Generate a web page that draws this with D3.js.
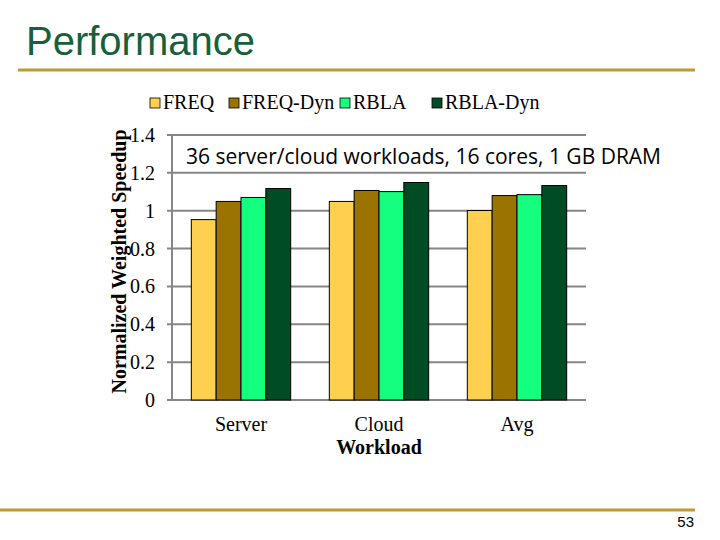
<!DOCTYPE html>
<html>
<head>
<meta charset="utf-8">
<script src="https://cdn.jsdelivr.net/npm/d3@7"></script>
<style>
body { margin: 0; background: #fff; }
svg { display: block; }
</style>
</head>
<body>
<div id="chart"></div>
<script>
/* DATA */

const categories = ["Server", "Cloud", "Avg"];
const seriesNames = ["FREQ", "FREQ-Dyn", "RBLA", "RBLA-Dyn"];
const seriesColors = ["#ffd050", "#9a7300", "#14ff80", "#004d25"];
const freq = [0.953, 1.049, 1.001];
const freqDyn = [1.049, 1.107, 1.080];
const rbla = [1.070, 1.101, 1.085];
const rblaDyn = [1.117, 1.149, 1.133];
const yTicks = [0, 0.2, 0.4, 0.6, 0.8, 1, 1.2, 1.4];

/* SET UP */

const w = 720;
const h = 540;
const m = { top: 135, right: 134, bottom: 140, left: 172 };

const svg = d3
	.select("#chart")
	.append("svg")
	.attr("width", w)
	.attr("height", h);

// slide title and rules
svg.append("text")
	.text("Performance")
	.attr("x", 26)
	.attr("y", 55)
	.attr("font-family", "Liberation Sans, Arial, sans-serif")
	.attr("font-size", 40)
	.attr("fill", "#17603a");

svg.append("line")
	.attr("x1", 18).attr("x2", 695)
	.attr("y1", 70).attr("y2", 70)
	.attr("stroke", "#c09a30")
	.attr("stroke-width", 3);

svg.append("line")
	.attr("x1", 0).attr("x2", 695)
	.attr("y1", 510).attr("y2", 510)
	.attr("stroke", "#c09a30")
	.attr("stroke-width", 3);

svg.append("text")
	.text("53")
	.attr("x", 694)
	.attr("y", 527)
	.attr("text-anchor", "end")
	.attr("font-family", "Liberation Sans, Arial, sans-serif")
	.attr("font-size", 15)
	.attr("fill", "#000");

/* SCALES */

const x0 = d3.scaleBand()
	.domain(categories)
	.range([m.left, w - m.right])
	.paddingInner(0.28)
	.paddingOuter(0.14);

const x1 = d3.scaleBand()
	.domain(seriesNames)
	.range([0, x0.bandwidth()]);

const y = d3.scaleLinear()
	.domain([0, 1.4])
	.range([h - m.bottom, m.top]);

const color = d3.scaleOrdinal().domain(seriesNames).range(seriesColors);

const serif = "Liberation Serif, Times New Roman, serif";

// gridlines
svg.append("g")
	.selectAll("line")
	.data(yTicks)
	.join("line")
	.attr("x1", m.left - 5)
	.attr("x2", w - m.right)
	.attr("y1", (d) => y(d))
	.attr("y2", (d) => y(d))
	.attr("stroke", "#868686")
	.attr("stroke-width", 2);

// y axis line
svg.append("line")
	.attr("x1", m.left).attr("x2", m.left)
	.attr("y1", y(1.4)).attr("y2", y(0))
	.attr("stroke", "#868686")
	.attr("stroke-width", 2);

// y tick labels
svg.append("g")
	.selectAll("text")
	.data(yTicks)
	.join("text")
	.text((d) => d)
	.attr("x", 155)
	.attr("y", (d) => y(d) + 7)
	.attr("text-anchor", "end")
	.attr("font-family", serif)
	.attr("font-size", 20)
	.attr("fill", "#000");

// y axis title
svg.append("text")
	.text("Normalized Weighted Speedup")
	.attr("transform", `translate(126, ${y(0.7) - 6}) rotate(-90)`)
	.attr("text-anchor", "middle")
	.attr("font-family", serif)
	.attr("font-weight", "bold")
	.attr("font-size", 20)
	.attr("fill", "#000");

/* BARS */

const table = categories.map((c, i) => ({
	cat: c,
	vals: [
		{ key: "FREQ", v: freq[i] },
		{ key: "FREQ-Dyn", v: freqDyn[i] },
		{ key: "RBLA", v: rbla[i] },
		{ key: "RBLA-Dyn", v: rblaDyn[i] },
	],
}));

svg.append("g")
	.selectAll("g")
	.data(table)
	.join("g")
	.attr("transform", (d) => `translate(${x0(d.cat)},0)`)
	.selectAll("rect")
	.data((d) => d.vals)
	.join("rect")
	.attr("x", (d) => x1(d.key))
	.attr("width", x1.bandwidth())
	.attr("y", (d) => y(d.v))
	.attr("height", (d) => y(0) - y(d.v))
	.attr("fill", (d) => color(d.key))
	.attr("stroke", "#000")
	.attr("stroke-width", 1);

// category labels
svg.append("g")
	.selectAll("text")
	.data(categories)
	.join("text")
	.text((d) => d)
	.attr("x", (d) => x0(d) + x0.bandwidth() / 2)
	.attr("y", 431)
	.attr("text-anchor", "middle")
	.attr("font-family", serif)
	.attr("font-size", 20)
	.attr("fill", "#000");

svg.append("text")
	.text("Workload")
	.attr("x", x0("Cloud") + x0.bandwidth() / 2)
	.attr("y", 454)
	.attr("text-anchor", "middle")
	.attr("font-family", serif)
	.attr("font-weight", "bold")
	.attr("font-size", 20)
	.attr("fill", "#000");

// annotation inside the plot
svg.append("text")
	.text("36 server/cloud workloads, 16 cores, 1 GB DRAM")
	.attr("x", 186)
	.attr("y", 164)
	.attr("font-family", "Open Sans, Noto Sans, sans-serif")
	.attr("font-size", 21)
	.attr("fill", "#000");

/* LEGEND */

const legendX = [150, 229, 340, 432];
const legend = svg.append("g")
	.selectAll("g")
	.data(seriesNames)
	.join("g")
	.attr("transform", (d, i) => `translate(${legendX[i]}, 98)`);

legend.append("rect")
	.attr("width", 10)
	.attr("height", 10)
	.attr("fill", (d) => color(d))
	.attr("stroke", "#000")
	.attr("stroke-width", 0.8);

legend.append("text")
	.text((d) => d)
	.attr("x", 13)
	.attr("y", 11)
	.attr("font-family", serif)
	.attr("font-size", 20)
	.attr("fill", "#000");
</script>
</body>
</html>
